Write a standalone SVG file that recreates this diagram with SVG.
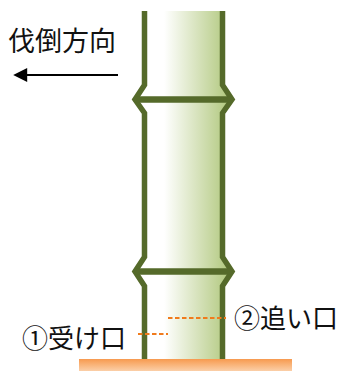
<svg xmlns="http://www.w3.org/2000/svg" width="343" height="371" viewBox="0 0 343 371">
  <defs>
    <linearGradient id="culm" x1="0" y1="0" x2="1" y2="0">
      <stop offset="0" stop-color="#ffffff"/>
      <stop offset="0.3" stop-color="#ffffff"/>
      <stop offset="1" stop-color="#adc577"/>
    </linearGradient>
    <linearGradient id="soil" x1="0" y1="0" x2="0" y2="1">
      <stop offset="0" stop-color="#f79a4f"/>
      <stop offset="1" stop-color="#fbcfa8"/>
    </linearGradient>
    <marker id="arrowhead" viewBox="0 0 10 10" refX="8" refY="5" markerWidth="16" markerHeight="14" markerUnits="userSpaceOnUse" orient="auto">
      <path d="M0,0 L10,5 L0,10 Z" fill="#000"/>
    </marker>
  </defs>
  <style>
    .wall { fill: none; stroke: #556a2a; stroke-width: 5.5; stroke-linejoin: miter; }
    .joint { stroke: #556a2a; stroke-width: 6.5; }
    .cut { stroke: #f07b1c; stroke-width: 1.8; stroke-dasharray: 4.5 2.5; }
    .label { font-family: "Noto Sans CJK JP", "Noto Sans CJK SC", sans-serif; font-size: 26px; fill: #111; }
  </style>

  <!-- ground -->
  <g id="ground">
    <rect x="79" y="359" width="213" height="12" fill="url(#soil)"/>
  </g>

  <!-- bamboo culm -->
  <g id="bamboo">
    <path d="M144.5,11 V85 L135,99.5 L144.5,113 V257 L135,271.5 L144.5,286 V359 H222.5 V286 L232,271.5 L222.5,257 V113 L232,99.5 L222.5,85 V11 Z" fill="url(#culm)"/>
    <path class="wall" d="M144.5,11 V85 L135,99.5 L144.5,113 V257 L135,271.5 L144.5,286 V359"/>
    <path class="wall" d="M222.5,11 V85 L232,99.5 L222.5,113 V257 L232,271.5 L222.5,286 V359"/>
    <line class="joint" x1="136" y1="99.5" x2="231" y2="99.5"/>
    <line class="joint" x1="136" y1="271.5" x2="231" y2="271.5"/>
  </g>

  <!-- felling direction -->
  <g id="direction">
    <text class="label" x="8" y="51" style="font-size:27px">伐倒方向</text>
    <line x1="118" y1="75" x2="16" y2="75" stroke="#000" stroke-width="2.2" marker-end="url(#arrowhead)"/>
  </g>

  <!-- notches -->
  <g id="connectors">
    <line class="cut" x1="138" y1="334" x2="168" y2="334"/>
    <line class="cut" x1="168" y1="318" x2="226" y2="318"/>
  </g>

  <g id="undercut">
    <text class="label" x="22" y="348">①受け口</text>
  </g>
  <g id="backcut">
    <text class="label" x="234" y="328">②追い口</text>
  </g>
</svg>
